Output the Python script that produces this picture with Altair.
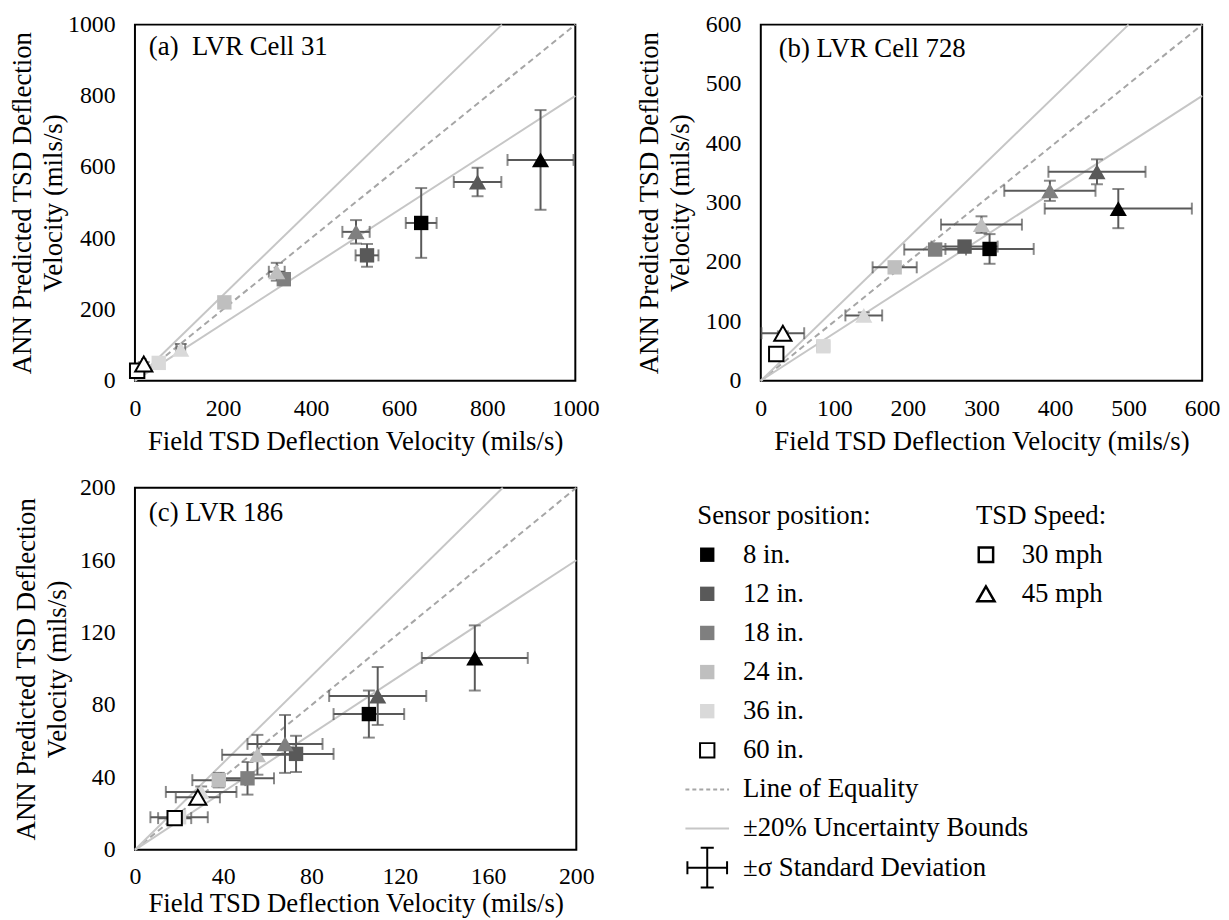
import altair as alt
import pandas as pd

FONT = "Liberation Serif"

SENSORS = ["8 in.", "12 in.", "18 in.", "24 in.", "36 in.", "60 in."]
SPEEDS = ["30 mph", "45 mph"]
SENSOR_FILL = ["#000000", "#595959", "#7f7f7f", "#bfbfbf", "#d9d9d9", "#ffffff"]
SENSOR_STROKE = ["transparent", "transparent", "transparent", "transparent", "transparent", "#000000"]
SPEED_SHAPE = ["square", "triangle-up"]

X_TITLE = "Field TSD Deflection Velocity (mils/s)"
Y_TITLE = ["ANN Predicted TSD Deflection", "Velocity (mils/s)"]

# ---- (a) LVR Cell 31 (per sensor: 8, 12, 18, 24, 36, 60 in.)
A_TITLE = "(a)\u00a0 LVR Cell 31"
A_MAX = 1000
A_TICKS = [0, 200, 400, 600, 800, 1000]
A_X30 = [650, 527, 338, 203, 54, 5]
A_Y30 = [443, 352, 285, 220, 50, 28]
A_XSD30 = [35, 26, 12, 8, 6, 3]
A_YSD30 = [98, 32, 15, 8, 5, 3]
A_X45 = [921, 778, 502, 322, 104, 20]
A_Y45 = [620, 558, 418, 306, 88, 47]
A_XSD45 = [75, 54, 31, 18, 10, 4]
A_YSD45 = [140, 40, 33, 25, 15, 5]

# ---- (b) LVR Cell 728
B_TITLE = "(b) LVR Cell 728"
B_MAX = 600
B_TICKS = [0, 100, 200, 300, 400, 500, 600]
B_X30 = [311, 277, 237, 182, 85, 21]
B_Y30 = [222, 226, 221, 191, 58, 45]
B_XSD30 = [60, 45, 42, 30, 8, 0]
B_YSD30 = [25, 8, 6, 5, 4, 0]
B_X45 = [486, 457, 393, 300, 140, 30]
B_Y45 = [290, 352, 320, 263, 110, 80]
B_XSD45 = [100, 66, 62, 55, 25, 29]
B_YSD45 = [33, 21, 17, 14, 5, 3]

# ---- (c) LVR 186
C_TITLE = "(c) LVR 186"
C_MAX = 200
C_TICKS = [0, 40, 80, 120, 160, 200]
C_X30 = [106, 73, 51, 38, 20, 18]
C_Y30 = [75, 53, 39.5, 38.5, 18, 17.5]
C_XSD30 = [16, 17, 12, 12, 13, 7.5]
C_YSD30 = [13, 10, 9, 4, 2, 2]
C_X45 = [154, 110, 68, 55.5, 30, 28.5]
C_Y45 = [106, 85, 58.5, 52.5, 32, 29]
C_XSD45 = [24, 22, 17, 16, 16, 10]
C_YSD45 = [18, 16, 16, 11, 3, 3]

# ---- legend texts
LEG_HEADERS = ["Sensor position:", "TSD Speed:"]
LINE_LABELS = ["Line of Equality", "\u00b120% Uncertainty Bounds", "\u00b1\u03c3 Standard Deviation"]

fill_scale = alt.Scale(domain=SENSORS, range=SENSOR_FILL)
stroke_scale = alt.Scale(domain=SENSORS, range=SENSOR_STROKE)
shape_scale = alt.Scale(domain=SPEEDS, range=SPEED_SHAPE)


def make_df(x30, y30, xs30, ys30, x45, y45, xs45, ys45):
    rows = []
    for i, s in enumerate(SENSORS):
        for sp, vals in zip(SPEEDS, [(x30[i], y30[i], xs30[i], ys30[i]),
                                     (x45[i], y45[i], xs45[i], ys45[i])]):
            x, y, xs, ys = vals
            rows.append(dict(sensor=s, speed=sp, x=x, y=y, xsd=xs, ysd=ys,
                             xlo=x - xs, xhi=x + xs, ylo=y - ys, yhi=y + ys))
    return pd.DataFrame(rows)


def panel(df, vmax, ticks, title, w, h, ypad, tdx, toff, xlpad=16, xtpad=8):
    sx = alt.Scale(domain=[0, vmax], nice=False, zero=True)
    sy = alt.Scale(domain=[0, vmax], nice=False, zero=True)
    xax = alt.Axis(values=ticks, title=X_TITLE, format="d",
                   labelPadding=xlpad, titlePadding=xtpad)
    yax = alt.Axis(values=ticks, title=Y_TITLE, titlePadding=ypad, format="d")
    ref = pd.DataFrame({
        "kind": ["eq", "eq", "up", "up", "lo", "lo"],
        "x": [0, vmax, 0, vmax / 1.2, 0, vmax],
        "y": [0, vmax, 0, vmax, 0, 0.8 * vmax],
    })
    X = lambda f: alt.X(f, scale=sx, axis=xax)
    Y = lambda f: alt.Y(f, scale=sy, axis=yax)
    eq = alt.Chart(ref).transform_filter("datum.kind == 'eq'").mark_line(
        color="#a6a6a6", strokeDash=[6, 4], strokeWidth=2
    ).encode(x=X("x:Q"), y=Y("y:Q"))
    bnd = alt.Chart(ref).transform_filter("datum.kind != 'eq'").mark_line(
        color="#c6c6c6", strokeWidth=2
    ).encode(x=X("x:Q"), y=Y("y:Q"), detail="kind:N")
    hbar = alt.Chart(df).transform_filter("datum.xsd > 0").mark_errorbar(
        orient="horizontal", ticks=True, size=12, thickness=2, color="#595959"
    ).encode(x=X("xlo:Q"), x2="xhi:Q", y=Y("y:Q"))
    vbar = alt.Chart(df).transform_filter("datum.ysd > 0").mark_errorbar(
        orient="vertical", ticks=True, size=12, thickness=2, color="#595959"
    ).encode(x=X("x:Q"), y=Y("ylo:Q"), y2="yhi:Q")
    pts = alt.Chart(df).mark_point(opacity=1, fillOpacity=1, strokeWidth=2).encode(
        x=X("x:Q"), y=Y("y:Q"),
        fill=alt.Fill("sensor:N", scale=fill_scale, legend=None),
        stroke=alt.Stroke("sensor:N", scale=stroke_scale, legend=None),
        shape=alt.Shape("speed:N", scale=shape_scale, legend=None),
        size=alt.Size("speed:N", scale=alt.Scale(domain=SPEEDS, range=[210, 300]), legend=None),
    )
    return alt.layer(eq, bnd, hbar, vbar, pts).properties(
        width=w, height=h,
        title=alt.TitleParams(title, anchor="start", frame="group", orient="top",
                              offset=toff, dx=tdx, font=FONT, fontSize=27,
                              fontWeight="normal", color="black"),
    )


pa = panel(make_df(A_X30, A_Y30, A_XSD30, A_YSD30, A_X45, A_Y45, A_XSD45, A_YSD45),
           A_MAX, A_TICKS, A_TITLE, 444, 359, 0, 14, -49)
pb = panel(make_df(B_X30, B_Y30, B_XSD30, B_YSD30, B_X45, B_Y45, B_XSD45, B_YSD45),
           B_MAX, B_TICKS, B_TITLE, 445, 359, 11, 18, -51)
pc = panel(make_df(C_X30, C_Y30, C_XSD30, C_YSD30, C_X45, C_Y45, C_XSD45, C_YSD45),
           C_MAX, C_TICKS, C_TITLE, 445, 365, 8, 14, -51, xlpad=15, xtpad=2)

# ---- legend panel
head_df = pd.DataFrame({"label": LEG_HEADERS, "col": [0, 1], "row": [0, 0]})
sens_df = pd.DataFrame({"label": SENSORS, "col": [0] * len(SENSORS),
                        "row": list(range(1, len(SENSORS) + 1))})
speed_df = pd.DataFrame({"label": SPEEDS, "col": [1] * len(SPEEDS),
                         "row": list(range(1, len(SPEEDS) + 1))})
line_df = pd.DataFrame({"label": LINE_LABELS, "col": [0] * 3,
                        "row": [len(SENSORS) + 1 + i for i in range(3)]})

lx = alt.Scale(domain=[0, 1], range=[73, 354])
ly = alt.Scale(domain=[0, 9], range=[28, 383])
LX = alt.X("col:Q", scale=lx, axis=None)
LY = alt.Y("row:Q", scale=ly, axis=None)

CROSS = "M-1,0H1M-1,-0.33V0.33M1,-0.33V0.33M0,-1V1M-0.33,-1H0.33M-0.33,1H0.33"
HLINE = "M-1,0H1"

l_sens = alt.Chart(sens_df).mark_point(opacity=1, fillOpacity=1, strokeWidth=2, size=210, shape="square").encode(
    x=LX, y=LY,
    fill=alt.Fill("label:N", scale=fill_scale, legend=None),
    stroke=alt.Stroke("label:N", scale=stroke_scale, legend=None),
)
l_speed = alt.Chart(speed_df).mark_point(opacity=1, fill="white", fillOpacity=1, stroke="black",
                                         strokeWidth=2.5).encode(
    x=LX, y=LY,
    shape=alt.Shape("label:N", scale=shape_scale, legend=None),
    size=alt.Size("label:N", scale=alt.Scale(domain=SPEEDS, range=[200, 330]), legend=None),
)
l_eq = alt.Chart(line_df).transform_filter(alt.datum.label == LINE_LABELS[0]).mark_point(
    shape=HLINE, size=1936, stroke="#a6a6a6", strokeWidth=2, strokeDash=[4, 3], opacity=1
).encode(x=LX, y=LY)
l_bd = alt.Chart(line_df).transform_filter(alt.datum.label == LINE_LABELS[1]).mark_point(
    shape=HLINE, size=1936, stroke="#c6c6c6", strokeWidth=2, opacity=1
).encode(x=LX, y=LY)
l_sd = alt.Chart(line_df).transform_filter(alt.datum.label == LINE_LABELS[2]).mark_point(
    shape=CROSS, size=1600, stroke="black", strokeWidth=2, opacity=1
).encode(x=LX, y=LY)
l_text = alt.Chart(pd.concat([sens_df, speed_df, line_df])).mark_text(
    align="left", baseline="middle", dx=36, font=FONT, fontSize=27, color="black"
).encode(x=LX, y=LY, text="label:N")
l_head = alt.Chart(head_df).mark_text(
    align="left", baseline="middle", dx=-10, font=FONT, fontSize=27, color="black"
).encode(x=LX, y=LY, text="label:N")

legend = alt.layer(l_eq, l_bd, l_sd, l_sens, l_speed, l_text, l_head).properties(
    width=470, height=420, view=alt.ViewBackground(strokeOpacity=0)
)

chart = alt.vconcat(
    alt.hconcat(pa, pb, spacing=35),
    alt.hconcat(pc, legend, spacing=40),
    spacing=20,
).properties(padding=0).configure_view(
    stroke="black", strokeWidth=2
).configure_axis(
    labelFont=FONT, labelFontSize=24, labelColor="black",
    titleFont=FONT, titleFontSize=27, titleFontWeight="normal", titleColor="black",
    ticks=False, tickSize=0, domain=False, grid=False, labelFlush=False, labelOverlap=False,
).configure_axisY(
    labelPadding=20, titleLineHeight=31
)

chart.save("out.html", embed_options={"renderer": "svg", "actions": False})
